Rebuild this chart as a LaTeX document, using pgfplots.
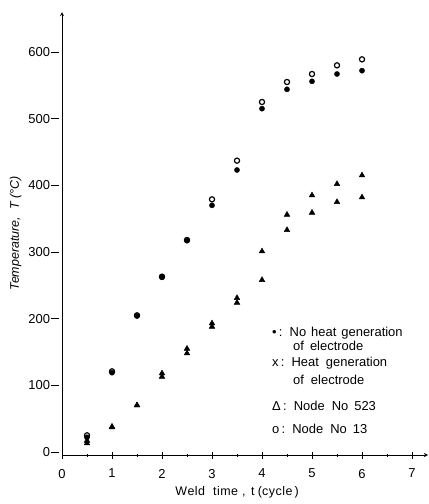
\documentclass[border=0pt]{standalone}
\usepackage{pgfplots}
\pgfplotsset{compat=1.18}
\usepackage{fontspec}
\setmainfont{Liberation Sans}
\begin{document}
\begin{tikzpicture}
\begin{axis}[
  scale only axis, width=366bp, height=443bp,
  xmin=0, xmax=7.32, ymin=-4.5, ymax=660,
  axis x line=bottom, axis y line=left,
  axis line style={line width=0.9pt, -stealth},
  xtick={0,...,7}, minor xtick={0.5,1.5,...,6.5},
  ytick={0,100,...,600},
  major tick length=7bp, minor tick length=3bp,
  tick style={black, line width=0.7pt},
  ytick style={xshift=-7bp},
  /pgf/number format/assume math mode=true,
  ticklabel style={font=\fontsize{13}{15}\selectfont},
  yticklabel style={xshift=-5bp},
  xticklabel style={yshift=-7bp},
  xlabel={W\kern0.5pt e\kern0.5pt l\kern0.5pt d\hspace{8bp}t\kern0.5pt i\kern0.5pt m\kern0.5pt e\hspace{4bp}, \hspace{2bp}t (c\kern0.5pt y\kern0.5pt c\kern0.5pt l\kern0.5pt e\,)},
  xlabel style={font=\fontsize{12.5}{15}\selectfont, xshift=-8bp, yshift=-1bp},
  ylabel={Temperature, \ T (°C)},
  ylabel style={font=\itshape\fontsize{12.5}{15}\selectfont, yshift=0bp},
  clip=false,
]
% Node No 13, heat generation of electrode
\addplot[only marks, mark=o, mark size=2.6pt, mark options={line width=1.2pt, black}] coordinates {
(0.5,25)(1,121)(1.5,205)(2,263)(2.5,318)(3,379)(3.5,437)(4,525)(4.5,555)(5,567)(5.5,580)(6,589)};
% Node No 13, no heat generation of electrode
\addplot[only marks, mark=*, mark size=2.6pt, mark options={fill=black, draw=black}] coordinates {
(0.5,22)(1,119)(1.5,204)(2,262)(2.5,317)(3,370)(3.5,423)(4,515)(4.5,544)(5,556)(5.5,567)(6,572)};
% Node No 523, heat generation of electrode
\addplot[only marks, mark=triangle*, mark size=3.3pt, mark options={fill=black, draw=black}] coordinates {
(0.5,17)(1,38)(1.5,70)(2,118)(2.5,155)(3,193)(3.5,231)(4,301)(4.5,356)(5,385)(5.5,402)(6,415)};
% Node No 523, no heat generation of electrode
\addplot[only marks, mark=triangle*, mark size=3.3pt, mark options={fill=black, draw=black}] coordinates {
(0.5,13)(1,37)(1.5,70)(2,113)(2.5,148)(3,188)(3.5,224)(4,258)(4.5,333)(5,359)(5.5,375)(6,382)};
% legend as text
\begin{scope}[every node/.style={anchor=west, inner sep=0pt, font=\fontsize{13}{15}\selectfont}]
\node at (axis cs:4.2,179) {•\,:\ \ No\hspace{5bp}heat\hspace{5bp}generation};
\node at (axis cs:4.62,159) {of\hspace{6bp}electrode};
\node at (axis cs:4.2,133.5) {x\,:\ \ Heat\hspace{7bp}generation};
\node at (axis cs:4.62,108) {of\hspace{7bp}electrode};
\node at (axis cs:4.2,69) {Δ\,:\ \ Node\hspace{7bp}No\hspace{6bp}523};
\node at (axis cs:4.2,34.5) {o\,:\ \ Node\hspace{7bp}No\hspace{6bp}13};
\end{scope}
\end{axis}
\pgfresetboundingbox
\path (-62bp,-49bp) rectangle (367bp,455bp);
\end{tikzpicture}
\end{document}
